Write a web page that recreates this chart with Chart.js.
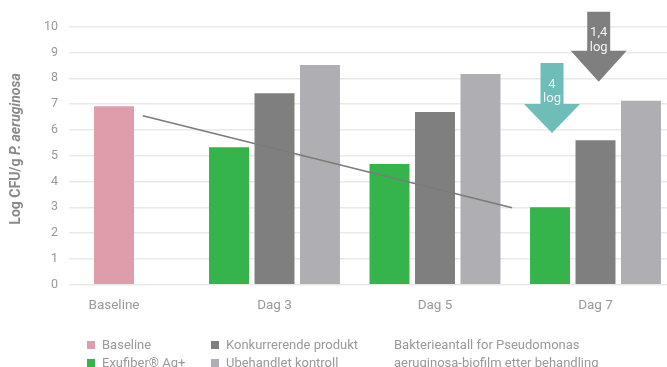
<!DOCTYPE html>
<html>
<head>
<meta charset="utf-8">
<script src="https://cdn.jsdelivr.net/npm/chart.js@4/dist/chart.umd.min.js"></script>
<style>
  html, body { margin: 0; padding: 0; background: #fff; overflow: hidden; }
  #wrap { position: relative; width: 667px; height: 367px; font-family: Roboto, sans-serif; }
  canvas { position: absolute; left: 0; top: 0; }
  .lg { position: absolute; font-size: 13px; color: #999; white-space: nowrap; line-height: 16px; }
  .sq { position: absolute; width: 8px; height: 8px; }
</style>
</head>
<body>
<div id="wrap">
  <canvas id="c" width="667" height="367"></canvas>
  <div id="legend"></div>
</div>
<script>
// ---- data ----
const categories = ['Baseline', 'Dag 3', 'Dag 5', 'Dag 7'];
const seriesNames = ['Baseline', 'Exufiber\u00AE Ag+', 'Konkurrerende produkt', 'Ubehandlet kontroll'];
const baselineValues      = [6.92, null, null, null];
const exufiberValues      = [null, 5.33, 4.68, 3.0];
const konkurrerendeValues = [null, 7.42, 6.69, 5.6];
const ubehandletValues    = [null, 8.52, 8.17, 7.13];
const trendX = [0.18, 2.48];
const trendY = [6.55, 2.98];
const yTicks = [0, 1, 2, 3, 4, 5, 6, 7, 8, 9, 10];
const arrowLabels = [['4', 'log'], ['1,4', 'log']];
const axisTitle = ['Log CFU/g ', 'P. aeruginosa'];
const noteLines = ['Bakterieantall for Pseudomonas', 'aeruginosa-biofilm etter behandling'];

// ---- styles ----
const colors = ['#dd9dab', '#35b44b', '#7f7f80', '#afaeb2'];
const arrowColors = ['#6fbdb9', '#7f7f80'];
// arrow annotations in data units: centre x, box top, head base, tip
const arrowX = [2.729, 3.02];
const arrowTop = [8.59, 10.58];
const arrowBase = [7.0, 9.07];
const arrowTip = [5.88, 7.87];

const seriesValues = [baselineValues, exufiberValues, konkurrerendeValues, ubehandletValues];
const barSets = seriesValues.map((vals, i) => ({
  type: 'bar',
  label: seriesNames[i],
  data: vals.map((v, k) => ({ x: k, y: v })),
  backgroundColor: colors[i],
  borderWidth: 0,
  categoryPercentage: 0.85,
  barPercentage: 0.879,
  maxBarThickness: 40,
  order: 1
}));
const trendSet = {
  type: 'line',
  label: 'trend',
  data: trendX.map((x, i) => ({ x: x, y: trendY[i] })),
  borderColor: '#7b7b7b',
  borderWidth: 1.6,
  pointRadius: 0,
  fill: false,
  order: 0
};

const pxPerCat = 160.5;
const xMin = -(114 - 69) / pxPerCat;
const xMax = xMin + 598 / pxPerCat;

const overlay = {
  id: 'overlay',
  afterDraw(chart) {
    const ctx = chart.ctx;
    const xs = chart.scales.x, ys = chart.scales.y;
    // arrows
    for (let i = 0; i < arrowX.length; i++) {
      const cx = xs.getPixelForValue(arrowX[i]);
      const top = ys.getPixelForValue(arrowTop[i]);
      const base = ys.getPixelForValue(arrowBase[i]);
      const tip = ys.getPixelForValue(arrowTip[i]);
      const bw = 11.5, hw = 28;
      ctx.save();
      ctx.fillStyle = arrowColors[i];
      ctx.beginPath();
      ctx.moveTo(cx - bw, top);
      ctx.lineTo(cx + bw, top);
      ctx.lineTo(cx + bw, base);
      ctx.lineTo(cx + hw, base);
      ctx.lineTo(cx, tip);
      ctx.lineTo(cx - hw, base);
      ctx.lineTo(cx - bw, base);
      ctx.closePath();
      ctx.fill();
      ctx.fillStyle = '#f4f4f4';
      ctx.font = '13px Roboto, sans-serif';
      ctx.textAlign = 'center';
      ctx.textBaseline = 'middle';
      ctx.fillText(arrowLabels[i][0], cx, top + 21.5);
      ctx.fillText(arrowLabels[i][1], cx, top + 36);
      ctx.restore();
    }
    // rotated y-axis title with italic species name
    ctx.save();
    ctx.translate(16, 149);
    ctx.rotate(-Math.PI / 2);
    ctx.fillStyle = '#8a8a8a';
    ctx.textBaseline = 'middle';
    ctx.textAlign = 'left';
    const f1 = 'bold 14px Roboto, sans-serif';
    const f2 = 'italic bold 14px Roboto, sans-serif';
    ctx.font = f1; const w1 = ctx.measureText(axisTitle[0]).width;
    ctx.font = f2; const w2 = ctx.measureText(axisTitle[1]).width;
    let x0 = -(w1 + w2) / 2;
    ctx.font = f1; ctx.fillText(axisTitle[0], x0, 0);
    ctx.font = f2; ctx.fillText(axisTitle[1], x0 + w1, 0);
    ctx.restore();
  }
};

new Chart(document.getElementById('c'), {
  data: { datasets: [trendSet, ...barSets] },
  options: {
    responsive: false,
    animation: false,
    skipNull: true,
    layout: { padding: { top: 26.7, right: 0, bottom: 0, left: 0 } },
    plugins: { legend: { display: false }, tooltip: { enabled: false } },
    scales: {
      x: {
        type: 'linear',
        min: xMin,
        max: xMax,
        offset: false,
        grid: { display: false, drawTicks: false },
        border: { display: false },
        afterBuildTicks(scale) { scale.ticks = categories.map((c, i) => ({ value: i })); },
        afterFit(scale) { scale.height = 367 - 284.7; },
        ticks: {
          padding: 13,
          color: '#999',
          font: { family: 'Roboto', size: 13.5 },
          maxRotation: 0,
          autoSkip: false,
          callback: (v) => categories[v] ?? ''
        }
      },
      y: {
        min: 0,
        max: 10,
        afterBuildTicks(scale) { scale.ticks = yTicks.map(v => ({ value: v })); },
        afterFit(scale) { scale.width = 69; },
        grid: { color: '#e9e9e7', lineWidth: 1.5, drawTicks: false },
        border: { display: false },
        ticks: {
          padding: 11,
          color: '#999',
          font: { family: 'Roboto', size: 12.5 }
        }
      }
    }
  },
  plugins: [overlay]
});

// ---- HTML legend ----
const legend = document.getElementById('legend');
const legendPos = [[87, 337], [87, 355], [211, 337], [211, 355]];
seriesNames.forEach((name, i) => {
  const sq = document.createElement('div');
  sq.className = 'sq';
  sq.style.left = legendPos[i][0] + 'px';
  sq.style.top = (legendPos[i][1] + 4) + 'px';
  sq.style.background = colors[i];
  legend.appendChild(sq);
  const t = document.createElement('div');
  t.className = 'lg';
  t.style.left = (legendPos[i][0] + 15) + 'px';
  t.style.top = legendPos[i][1] + 'px';
  t.textContent = name;
  legend.appendChild(t);
});
noteLines.forEach((line, i) => {
  const t = document.createElement('div');
  t.className = 'lg';
  t.style.left = '394px';
  t.style.top = (337 + 18 * i) + 'px';
  t.textContent = line;
  legend.appendChild(t);
});
</script>
</body>
</html>
